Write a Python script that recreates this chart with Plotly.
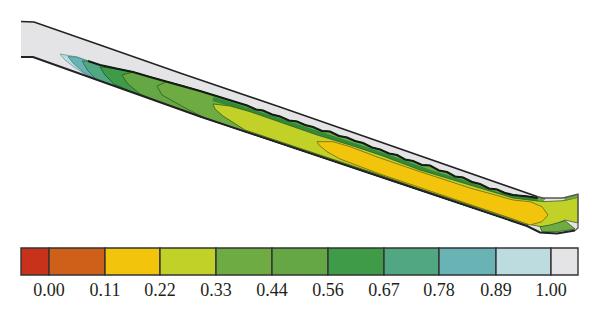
"""Contour plot of a value along an inclined channel, with a stepped colour key."""

import plotly.graph_objects as go

# Contour levels and colour key
tick_labels = ["0.00", "0.11", "0.22", "0.33", "0.44", "0.56", "0.67", "0.78", "0.89", "1.00"]
key_edges = [21, 49, 105, 160, 216, 272, 328, 384, 439, 496, 551, 578]
key_colors = ["#c8321a", "#cf6019", "#f2c40c", "#c2d128", "#6fab43", "#66a745",
              "#3f9b47", "#52a783", "#6ab3b4", "#bcdcdf", "#e4e4e6"]

# Channel walls in image pixels
top_wall_x = [21, 34, 100, 180, 280, 380, 470, 537, 543, 563, 578]
top_wall_y = [21.5, 22, 45, 73, 107, 141.7, 173, 196.5, 198, 198, 194]
end_wall_x = [578, 578, 575, 557, 540, 527]
end_wall_y = [194, 228, 230.5, 233.5, 232.5, 226]
low_wall_x = [527, 420, 380, 200, 33, 21]
low_wall_y = [226, 190, 176.5, 116.5, 57, 57]

# Top of the coloured band, ragged where the contours crowd together
band_x = [60, 68, 77, 88, 100, 116, 133, 150, 167, 184, 200, 213, 230, 247, 256, 263, 272, 280,
          289, 297, 305, 313, 322, 330, 339, 347, 355, 363, 372, 380, 389, 397, 405, 413, 422,
          430, 439, 447, 455, 463, 472, 480, 489, 497, 505, 513, 528, 538]
band_y = [54, 55.5, 57, 61, 65, 68.5, 72, 77, 81.5, 86, 91, 95, 100.5, 105.5, 109.5, 110.5, 114.5,
          116.5, 120.5, 121.5, 125, 127, 131, 131.5, 136, 137.5, 141, 143, 147.5, 149.5, 153.5,
          155, 159.5, 161, 165, 165.5, 170.5, 172, 176.5, 177.5, 182, 184, 188.5, 189.5, 193,
          195, 196.5, 198]
strip_x = [213, 230, 263, 297, 330, 363, 397, 430, 463, 497, 525, 538]
strip_y = [99, 104, 115, 126, 137, 148, 160, 172, 182, 194, 198, 200]

# Lower side of each contour, from its tip back to the wall
light_x = [60, 65, 74, 88]
light_y = [54, 60, 67, 76]
teal_x = [68, 73, 83, 96]
teal_y = [56.5, 63, 72, 79]
sea_x = [82, 88, 97, 110]
sea_y = [61, 71, 80, 84]
green_x = [100, 105, 114, 130]
green_y = [67, 75, 84, 91]
mid_x = [122, 127, 140, 158]
mid_y = [75, 83, 94, 101]
olive_x = [157, 162, 187, 205]
olive_y = [86, 95, 109, 118]

# Closed contours
lime_x = [213, 230, 250, 283, 317, 350, 380, 420, 470, 513, 543, 563, 578,
          578, 565, 548, 530, 420, 380, 245, 223, 215]
lime_y = [104, 106, 111.7, 123, 135, 145, 155, 170, 185, 198, 201.7, 200.7, 197,
          223, 220, 228, 224.5, 189, 175, 130, 116, 109]
yellow_x = [317, 333, 350, 380, 420, 470, 513, 530, 542, 548, 542, 530, 510, 420, 380, 340, 327, 319]
yellow_y = [141.7, 141.7, 146.7, 158, 171.7, 188, 200, 201.7, 206.7, 215, 221.7, 225, 218, 188,
            174, 159, 151.7, 145]
corner_x = [540, 550, 565, 575, 557, 542]
corner_y = [226.7, 225, 220.7, 229, 231.7, 231.7]
notch_x = [536, 545, 543, 537]
notch_y = [197, 198.5, 201.5, 200]
tail_x = [565, 578, 578, 565]
tail_y = [198, 194.5, 197.5, 200.5]

LINE = "#141c14"


def nested_region(head_x, head_y):
    """Close a contour along the band and the lower wall."""
    up = [(x, y) for x, y in zip(band_x, band_y) if x > head_x[0]]
    down = [(x, y) for x, y in zip(low_wall_x, low_wall_y) if x > head_x[-1]]
    xs = [head_x[0]] + [p[0] for p in up] + [p[0] for p in down] + head_x[::-1]
    ys = [head_y[0]] + [p[1] for p in up] + [p[1] for p in down] + head_y[::-1]
    return xs, ys


fig = go.Figure()

# Channel background
fig.add_trace(go.Scatter(
    x=top_wall_x + end_wall_x[1:] + low_wall_x[1:],
    y=top_wall_y + end_wall_y[1:] + low_wall_y[1:],
    mode="lines", fill="toself", fillcolor=key_colors[10], line=dict(width=0),
))

nested = [
    (light_x, light_y, key_colors[9], "#6c9a9c"),
    (teal_x, teal_y, key_colors[8], "#3f7f80"),
    (sea_x, sea_y, key_colors[7], "#2f6b55"),
    (green_x, green_y, key_colors[6], "#1f5a26"),
    (mid_x, mid_y, key_colors[5], "#2a5a20"),
    (olive_x, olive_y, key_colors[4], "#2f5a20"),
]
for head_x, head_y, color, edge in nested:
    xs, ys = nested_region(head_x, head_y)
    fig.add_trace(go.Scatter(
        x=xs, y=ys, mode="lines", fill="toself", fillcolor=color,
        line=dict(width=0.8, color=edge),
    ))

# Dark green strip under the crowded contours
fig.add_trace(go.Scatter(
    x=strip_x, y=strip_y, mode="lines", line=dict(width=4, color="#2f8a3c"),
))

for xs, ys, color, edge in [
    (lime_x, lime_y, key_colors[3], "#3d5a1c"),
    (corner_x, corner_y, key_colors[4], "#2f5a20"),
    (notch_x, notch_y, key_colors[4], "#4f8a30"),
    (tail_x, tail_y, key_colors[4], "#4f8a30"),
    (yellow_x, yellow_y, key_colors[2], "#6c6a14"),
]:
    fig.add_trace(go.Scatter(
        x=xs + xs[:1], y=ys + ys[:1], mode="lines", fill="toself", fillcolor=color,
        line=dict(width=0.8, color=edge),
    ))

# Crowded contours along the band, black only once the greens begin
fig.add_trace(go.Scatter(
    x=band_x[3:], y=band_y[3:], mode="lines", line=dict(width=2.2, color=LINE),
))

# Walls
fig.add_trace(go.Scatter(
    x=top_wall_x[:8], y=top_wall_y[:8], mode="lines", line=dict(width=1.5, color="#222222"),
))
fig.add_trace(go.Scatter(
    x=top_wall_x[7:] + end_wall_x[1:3], y=top_wall_y[7:] + end_wall_y[1:3],
    mode="lines", line=dict(width=1.3, color="#555555"),
))
fig.add_trace(go.Scatter(
    x=end_wall_x[2:] + low_wall_x[1:], y=end_wall_y[2:] + low_wall_y[1:],
    mode="lines", line=dict(width=2, color="#222222"),
))

# Colour key
fig.add_trace(go.Bar(
    x=[b - a for a, b in zip(key_edges[:-1], key_edges[1:])],
    y=[261.5] * len(key_colors),
    base=key_edges[:-1],
    orientation="h",
    width=27,
    marker=dict(color=key_colors, line=dict(color="#333333", width=1.4)),
))
fig.add_trace(go.Scatter(
    x=key_edges[1:],
    y=[291.5] * len(tick_labels),
    mode="text",
    text=tick_labels,
    textposition="middle center",
    textfont=dict(family="Liberation Serif", size=18, color="#231f20"),
))

# The page keeps an 8 px body margin, so the axes start at that offset
fig.update_layout(
    width=592,
    height=317,
    margin=dict(l=0, r=0, t=0, b=0),
    paper_bgcolor="white",
    plot_bgcolor="white",
    showlegend=False,
    barmode="overlay",
    xaxis=dict(range=[8, 600], visible=False),
    yaxis=dict(range=[325, 8], visible=False),
)

fig.write_html("out.html")
